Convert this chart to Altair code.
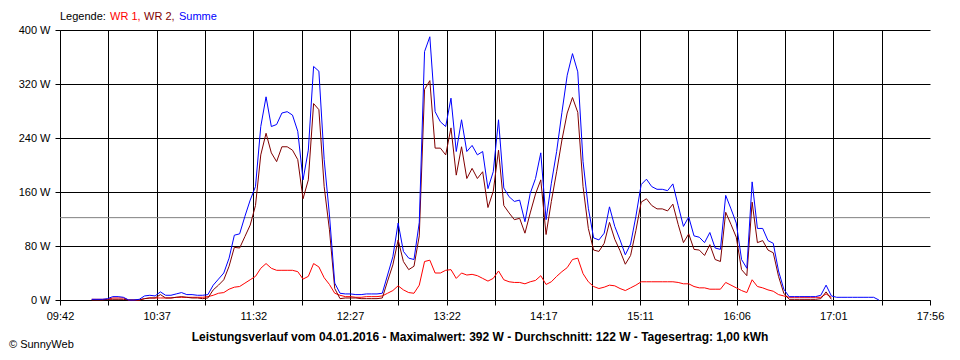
import altair as alt
import pandas as pd

# Readings every 3 minutes, given as minutes after 09:42 (10:00 ... 17:27)
minutes = list(range(18, 466, 3))

summe = [
    1, 1, 1, 2, 5, 5, 4, 0, 0, 1,
    6, 7, 6, 12, 7, 7, 9, 11, 8, 8,
    7, 7, 8, 22, 31, 40, 62, 96, 98, 124,
    148, 168, 257, 301, 257, 260, 277, 279, 274, 250,
    178, 222, 346, 339, 208, 126, 25, 10, 9, 9,
    8, 8, 9, 9, 9, 10, 37, 64, 114, 72,
    62, 60, 115, 368, 390, 279, 264, 257, 299, 220,
    267, 220, 229, 215, 220, 165, 190, 267, 166, 153,
    146, 148, 116, 158, 180, 218, 119, 173, 220, 278,
    333, 365, 338, 205, 136, 92, 89, 99, 138, 109,
    89, 67, 83, 124, 171, 179, 168, 164, 164, 162,
    172, 140, 109, 123, 95, 93, 85, 100, 77, 75,
    155, 135, 114, 60, 47, 175, 106, 106, 88, 84,
    43, 16, 5, 5, 5, 5, 5, 5, 7, 22,
    6, 4, 4, 4, 4, 4, 4, 4, 4, 0,
]

wr2 = [
    0, 0, 0, 1, 1, 1, 1, 0, 0, 0,
    2, 3, 3, 8, 3, 3, 4, 5, 4, 3,
    3, 2, 3, 15, 22, 30, 50, 78, 77, 94,
    111, 140, 215, 247, 218, 205, 227, 227, 222, 208,
    150, 178, 291, 282, 168, 104, 17, 2, 3, 3,
    3, 2, 2, 2, 2, 3, 28, 52, 89, 57,
    45, 50, 95, 312, 325, 225, 225, 215, 255, 185,
    227, 180, 195, 180, 190, 137, 161, 222, 140, 129,
    119, 121, 99, 129, 157, 178, 97, 146, 190, 237,
    277, 300, 278, 168, 106, 74, 72, 84, 115, 90,
    73, 53, 66, 103, 145, 150, 140, 135, 135, 132,
    142, 112, 85, 98, 75, 74, 66, 82, 60, 57,
    130, 112, 93, 45, 36, 145, 85, 88, 74, 70,
    35, 10, 1, 1, 1, 1, 1, 1, 2, 12,
    1, None, None, None, None, None, None, None, None, None,
]

wr1 = [
    1, 1, 1, 1, 3, 3, 3, 0, 0, 0,
    2, 3, 3, 3, 3, 3, 4, 4, 4, 4,
    4, 4, 5, 7, 10, 11, 16, 19, 20, 25,
    30, 35, 47, 54, 47, 44, 44, 44, 44, 42,
    31, 35, 54, 49, 33, 23, 10, 7, 5, 5,
    4, 4, 5, 5, 5, 6, 10, 14, 21, 15,
    11, 10, 22, 57, 59, 40, 40, 44, 45, 32,
    40, 37, 38, 36, 32, 28, 32, 43, 30, 27,
    26, 26, 24, 27, 29, 36, 23, 27, 35, 42,
    48, 60, 62, 39, 27, 20, 17, 19, 22, 21,
    17, 14, 18, 22, 27, 27, 27, 27, 27, 27,
    27, 26, 24, 24, 20, 18, 18, 16, 16, 16,
    26, 22, 18, 14, 11, 30, 20, 18, 15, 13,
    8, 6, 4, 4, 4, 4, 4, 4, 4, 9,
    4, None, None, None, None, None, None, None, None, None,
]

series_names = ["WR 1", "WR 2", "Summe"]
series_colors = ["#ff0000", "#800000", "#0000ff"]

span_minutes = 494  # 09:42 -> 17:56
tick_labels = ["09:42", "10:37", "11:32", "12:27", "13:22",
               "14:17", "15:11", "16:06", "17:01", "17:56"]
y_ticks = [0, 80, 160, 240, 320, 400]
average_w = 122
title_text = ("Leistungsverlauf vom 04.01.2016 - Maximalwert: 392 W - "
              "Durchschnitt: 122 W - Tagesertrag: 1,00 kWh")
copyright_text = "© SunnyWeb"

FONT = "Liberation Sans"

x_ticks = [k * span_minutes / 18 for k in range(19)]
label_slots = []
for lab in tick_labels:
    label_slots += [lab, ""]
label_slots = label_slots[:19]
label_js = "[" + ",".join("'" + s + "'" for s in label_slots) + "]"

x_scale = alt.Scale(domain=[0, span_minutes], nice=False, zero=False)
y_scale = alt.Scale(domain=[0, 400], nice=False)

x_axis = alt.Axis(
    values=x_ticks,
    labelExpr=label_js + "[round(datum.value*18/" + str(span_minutes) + ")]",
    grid=True, gridColor="black", gridWidth=1,
    gridOpacity={"condition": {"test": "datum.value > 490", "value": 0}, "value": 1},
    tickColor="black", tickSize=5, tickWidth=1,
    domainColor="black", domainWidth=1,
    labelFont=FONT, labelFontSize=11, labelColor="black", labelPadding=5,
    labelAngle=0, labelOverlap=False, labelFlush=False, title=None,
)
y_axis = alt.Axis(
    values=y_ticks, labelExpr="datum.value + ' W'",
    grid=True, gridColor="black", gridWidth=1,
    tickColor="black", tickSize=5, tickWidth=1,
    domainColor="black", domainWidth=1,
    labelFont=FONT, labelFontSize=11, labelColor="black", labelPadding=5,
    labelFlush=False, labelOverlap=False, title=None,
)

layers = []

avg_layer = alt.Chart(pd.DataFrame({"avg": [average_w]})).mark_rule(
    color="#808080", strokeWidth=1
).encode(y=alt.Y("avg:Q", scale=y_scale, axis=y_axis))
layers.append(avg_layer)

for name, vals, col in zip(series_names, [wr1, wr2, summe], series_colors):
    df = pd.DataFrame({"t": minutes, "W": vals}).dropna()
    layers.append(
        alt.Chart(df).mark_line(color=col, strokeWidth=1).encode(
            x=alt.X("t:Q", scale=x_scale, axis=x_axis),
            y=alt.Y("W:Q", scale=y_scale, axis=y_axis),
        )
    )

# Legend text (top left)
legend_parts = [("Legende:", "black", 0), ("WR 1,", "#ff0000", 50),
                ("WR 2,", "#800000", 84), ("Summe", "#0000ff", 119)]
for txt, col, dx in legend_parts:
    layers.append(
        alt.Chart(pd.DataFrame({"s": [txt]})).mark_text(
            font=FONT, fontSize=11, color=col, align="left", baseline="alphabetic"
        ).encode(text="s:N", x=alt.value(dx), y=alt.value(-10))
    )

layers.append(
    alt.Chart(pd.DataFrame({"s": [title_text]})).mark_text(
        font=FONT, fontSize=12, fontWeight="bold", color="black",
        align="center", baseline="middle"
    ).encode(text="s:N", x=alt.value(420), y=alt.value(307))
)
layers.append(
    alt.Chart(pd.DataFrame({"s": [copyright_text]})).mark_text(
        font=FONT, fontSize=11, color="black", align="left", baseline="bottom"
    ).encode(text="s:N", x=alt.value(-51), y=alt.value(320))
)

chart = alt.layer(*layers).properties(
    width=870, height=270,
    autosize=alt.AutoSizeParams(type="none"),
    padding={"left": 52, "top": 22, "right": 22, "bottom": 52},
    background="white",
).configure_view(strokeWidth=0)

chart.save("out.html", embed_options={"renderer": "svg", "actions": False})
